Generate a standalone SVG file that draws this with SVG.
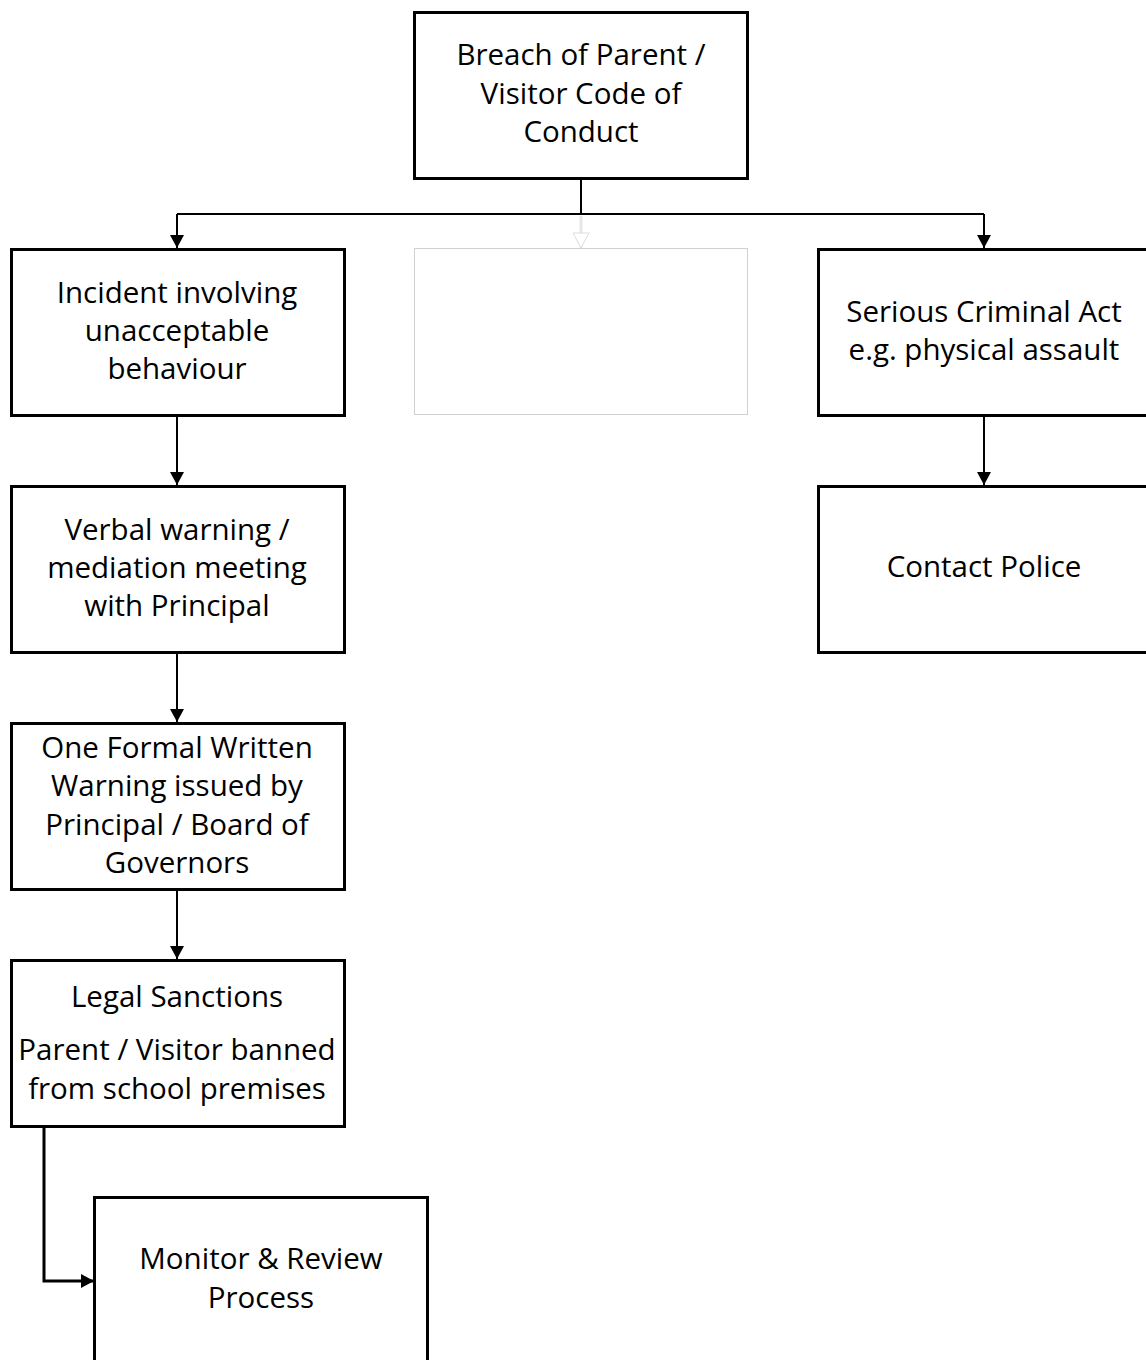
<svg xmlns="http://www.w3.org/2000/svg" width="1146" height="1360" viewBox="0 0 1146 1360">
<style>
.box{fill:#fff;stroke:#000;stroke-width:3}
.ghost{fill:#fff;stroke:#d0d0d0;stroke-width:1}
.t{font-family:"Open Sans","Liberation Sans",sans-serif;font-size:29.5px;fill:#000;text-anchor:middle}
.ln{fill:none;stroke:#000;stroke-width:2}
.lnb{fill:none;stroke:#000;stroke-width:3}
</style>
<defs>
<marker id="ah" markerWidth="14" markerHeight="16" refX="13" refY="7" orient="auto" markerUnits="userSpaceOnUse">
<path d="M0,0 L13,7 L0,14 Z" fill="#000"/>
</marker>
<marker id="ahg" markerWidth="18" markerHeight="20" refX="16" refY="9" orient="auto" markerUnits="userSpaceOnUse">
<path d="M1,1 L16,9 L1,17 Z" fill="#fff" stroke="#dcdcdc" stroke-width="1"/>
</marker>
</defs>
<rect width="1146" height="1360" fill="#fff"/>
<g id="connectors">
<path class="ln" d="M581,180 V214"/>
<path class="ln" d="M177,214 H984"/>
<path class="ln" d="M177,214 V248" marker-end="url(#ah)"/>
<path class="ln" d="M984,214 V248" marker-end="url(#ah)"/>
<path fill="none" stroke="#e6e6e6" stroke-width="3" d="M581,216 V248" marker-end="url(#ahg)"/>
<path class="ln" d="M177,416 V485" marker-end="url(#ah)"/>
<path class="ln" d="M177,653 V722" marker-end="url(#ah)"/>
<path class="ln" d="M177,890 V959" marker-end="url(#ah)"/>
<path class="ln" d="M984,416 V485" marker-end="url(#ah)"/>
<path class="lnb" d="M44,1127 V1281 H94" marker-end="url(#ah)"/>
</g>
<g id="n-breach">
<rect class="box" x="414.5" y="12.5" width="333" height="166"/>
<text class="t" x="581" y="65">Breach of Parent /</text>
<text class="t" x="581" y="104">Visitor Code of</text>
<text class="t" x="581" y="142">Conduct</text>
</g>
<g id="n-incident">
<rect class="box" x="11.5" y="249.5" width="333" height="166"/>
<text class="t" x="177" y="303">Incident involving</text>
<text class="t" x="177" y="341">unacceptable</text>
<text class="t" x="177" y="379">behaviour</text>
</g>
<g id="n-empty">
<rect class="ghost" x="414.5" y="248.5" width="333" height="166"/>
</g>
<g id="n-serious">
<rect class="box" x="818.5" y="249.5" width="340" height="166"/>
<text class="t" x="984" y="322">Serious Criminal Act</text>
<text class="t" x="984" y="360">e.g. physical assault</text>
</g>
<g id="n-verbal">
<rect class="box" x="11.5" y="486.5" width="333" height="166"/>
<text class="t" x="177" y="540">Verbal warning /</text>
<text class="t" x="177" y="578">mediation meeting</text>
<text class="t" x="177" y="616">with Principal</text>
</g>
<g id="n-police">
<rect class="box" x="818.5" y="486.5" width="340" height="166"/>
<text class="t" x="984" y="577">Contact Police</text>
</g>
<g id="n-written">
<rect class="box" x="11.5" y="723.5" width="333" height="166"/>
<text class="t" x="177" y="758">One Formal Written</text>
<text class="t" x="177" y="796">Warning issued by</text>
<text class="t" x="177" y="835">Principal / Board of</text>
<text class="t" x="177" y="873">Governors</text>
</g>
<g id="n-legal">
<rect class="box" x="11.5" y="960.5" width="333" height="166"/>
<text class="t" x="177" y="1007">Legal Sanctions</text>
<text class="t" x="177" y="1060">Parent / Visitor banned</text>
<text class="t" x="177" y="1099">from school premises</text>
</g>
<g id="n-monitor">
<rect class="box" x="94.5" y="1197.5" width="333" height="180"/>
<text class="t" x="261" y="1269">Monitor &amp; Review</text>
<text class="t" x="261" y="1308">Process</text>
</g>
</svg>
